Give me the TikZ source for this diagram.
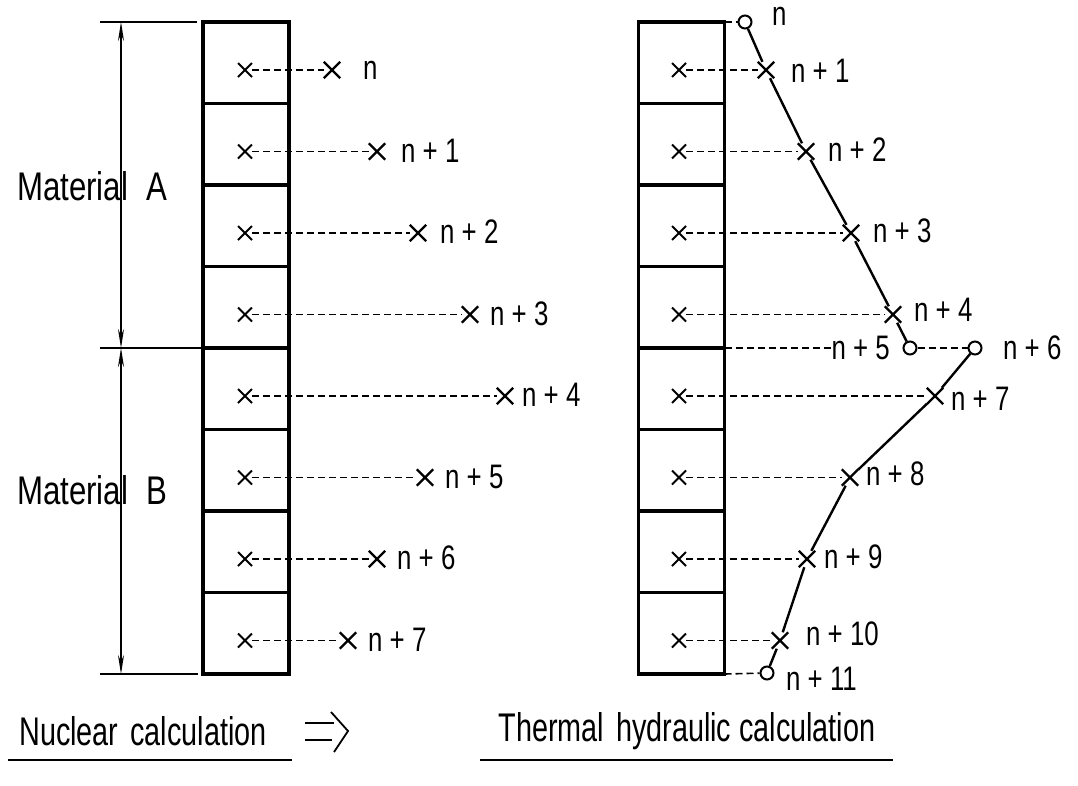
\documentclass[tikz,border=0pt]{standalone}
\usepackage{fontspec}
\setmainfont{Liberation Sans}
\newfontfamily\bigf[FakeStretch=0.72]{Liberation Sans}
\newfontfamily\matf[FakeStretch=0.78]{Liberation Sans}
\newfontfamily\labf[FakeStretch=0.76]{Liberation Sans}
\usetikzlibrary{shapes.misc,arrows.meta}
\tikzset{
  cellbox/.style={draw, line width=3.2pt, minimum width=86pt, minimum height=81.5pt, inner sep=0pt, outer sep=0pt},
  bigx/.style={cross out, draw, line width=2.4pt, minimum size=14pt, inner sep=0pt},
  smallx/.style={cross out, draw, line width=1.9pt, minimum size=8pt, inner sep=0pt, outer sep=3pt},
  ring/.style={circle, draw, line width=2pt, minimum size=13pt, inner sep=0pt},
  dline/.style={dash pattern=on 7pt off 4pt, line width=1.6pt},
  conn/.style={line width=2.4pt},
  thin/.style={line width=1.8pt},
  dim/.style={line width=1.5pt},
  lab/.style={font=\labf\fontsize{34}{36}\selectfont, inner sep=0pt},
  mat/.style={font=\matf\fontsize{40}{42}\selectfont, inner sep=0pt},
  big/.style={font=\bigf\fontsize{40}{42}\selectfont, inner sep=0pt},
}
\begin{document}
\begin{tikzpicture}[x=1pt,y=-1pt]
\useasboundingbox[fill=white] (0,0) rectangle (1078,785);

% cells and small markers
\foreach \i in {1,...,8}{
  \node[cellbox] (Lc\i) at (246,{22+81.5*(\i-1)+40.75}) {};
  \node[cellbox] (Rc\i) at (681.5,{22+81.5*(\i-1)+40.75}) {};
  \node[smallx] (Ls\i) at (245,{22+81.5*(\i-1)+48}) {};
  \node[smallx] (Rs\i) at (679,{22+81.5*(\i-1)+48}) {};
}

% left big markers and labels
\foreach \i/\x in {1/332,2/377,3/418,4/470,5/505,6/425,7/377,8/348}{
  \node[bigx] (LX\i) at (\x,{22+81.5*(\i-1)+48}) {};
  \draw[dline] (Ls\i) -- (LX\i);
}
\node[lab,anchor=west] (Ll1) at (363,70) {n};
\foreach \i/\x/\t in {2/401/n + 1,3/440/n + 2,4/490/n + 3,5/522/n + 4,6/445/n + 5,7/397/n + 6,8/368/n + 7}{
  \node[lab,anchor=west] (Ll\i) at (\x,{22+81.5*(\i-1)+47}) {\t};
}

% dimension lines
\coordinate (dT) at (121,22);
\coordinate (dM) at (121,348);
\coordinate (dB) at (121,674);
\coordinate (eT) at (100,22);
\coordinate (eTr) at (197,22);
\coordinate (eM) at (100,348);
\coordinate (eB) at (100,674);
\coordinate (eBr) at (198,674);
\draw[thin] (eT) -- (eTr);
\draw[thin] (eM) -- (Lc4.south west);
\draw[thin] (eB) -- (eBr);
\draw[dim,{Stealth[length=19pt,width=6pt]}-{Stealth[length=19pt,width=6pt]}] (dT) -- (dM);
\draw[dim,{Stealth[length=19pt,width=6pt]}-{Stealth[length=19pt,width=6pt]}] (dM) -- (dB);
\node[mat] (mA) at (92,186) {Material\hspace{18pt}A};
\node[mat] (mB) at (92,490) {Material\hspace{18pt}B};

% right side markers
\node[ring] (C0) at (745,22) {};
\node[bigx] (R1) at (766,70) {};
\node[bigx] (R2) at (806,151.5) {};
\node[bigx] (R3) at (851,233) {};
\node[bigx] (R4) at (893,314.5) {};
\node[ring] (C5) at (910,348) {};
\node[ring] (C6) at (975,348) {};
\node[bigx] (R7) at (935,396) {};
\node[bigx] (R8) at (850,477.5) {};
\node[bigx] (R9) at (807,559) {};
\node[bigx] (R10) at (780,640.5) {};
\node[ring] (C11) at (767,673) {};

\draw[dline] (Rs1) -- (R1);
\draw[dline] (Rs2) -- (R2);
\draw[dline] (Rs3) -- (R3);
\draw[dline] (Rs4) -- (R4);
\draw[dline] (Rs5) -- (R7);
\draw[dline] (Rs6) -- (R8);
\draw[dline] (Rs7) -- (R9);
\draw[dline] (Rs8) -- (R10);

\draw[conn] (C0) -- (R1) -- (R2) -- (R3) -- (R4) -- (C5);
\draw[conn] (C6) -- (R7) -- (R8) -- (R9) -- (R10) -- (C11);

% right labels
\node[lab,anchor=west] (Rl0) at (772,16) {n};
\node[lab,anchor=west] (Rl1) at (791,71) {n + 1};
\node[lab,anchor=west] (Rl2) at (828,150) {n + 2};
\node[lab,anchor=west] (Rl3) at (873,231) {n + 3};
\node[lab,anchor=west] (Rl4) at (914,310) {n + 4};
\node[lab,anchor=east] (Rl5) at (890,348) {n + 5};
\node[lab,anchor=west] (Rl6) at (1003,348) {n + 6};
\node[lab,anchor=west] (Rl7) at (951,399) {n + 7};
\node[lab,anchor=west] (Rl8) at (866,474) {n + 8};
\node[lab,anchor=west] (Rl9) at (824,557) {n + 9};
\node[lab,anchor=west] (Rl10) at (806,634) {n + 10};
\node[lab,anchor=west] (Rl11) at (786,679) {n + 11};

\draw[dline] (Rc1.north east) -- (C0);
\draw[dline] (Rc4.south east) -- (Rl5.west);
\draw[dline] (C5) -- (C6);
\draw[dline] (Rc8.south east) -- (C11);

% bottom captions
\node[big] (nuc) at (143,731) {Nuclear\hspace{12pt}calculation};
\node[big] (th) at (687,731) {Thermal\hspace{12pt}hydraulic calculation};
\draw[thin] (8,760) -- (292,760);
\draw[thin] (480,760) -- (893,760);
\coordinate (a1) at (305,723);
\coordinate (a2) at (334,723);
\coordinate (a3) at (305,740);
\coordinate (a4) at (332,740);
\coordinate (h1) at (331,712);
\coordinate (h2) at (348,731);
\coordinate (h3) at (334,752);
\draw[thin] (a1) -- (a2);
\draw[thin] (a3) -- (a4);
\draw[thin, line join=miter] (h1) -- (h2) -- (h3);
\end{tikzpicture}
\end{document}
